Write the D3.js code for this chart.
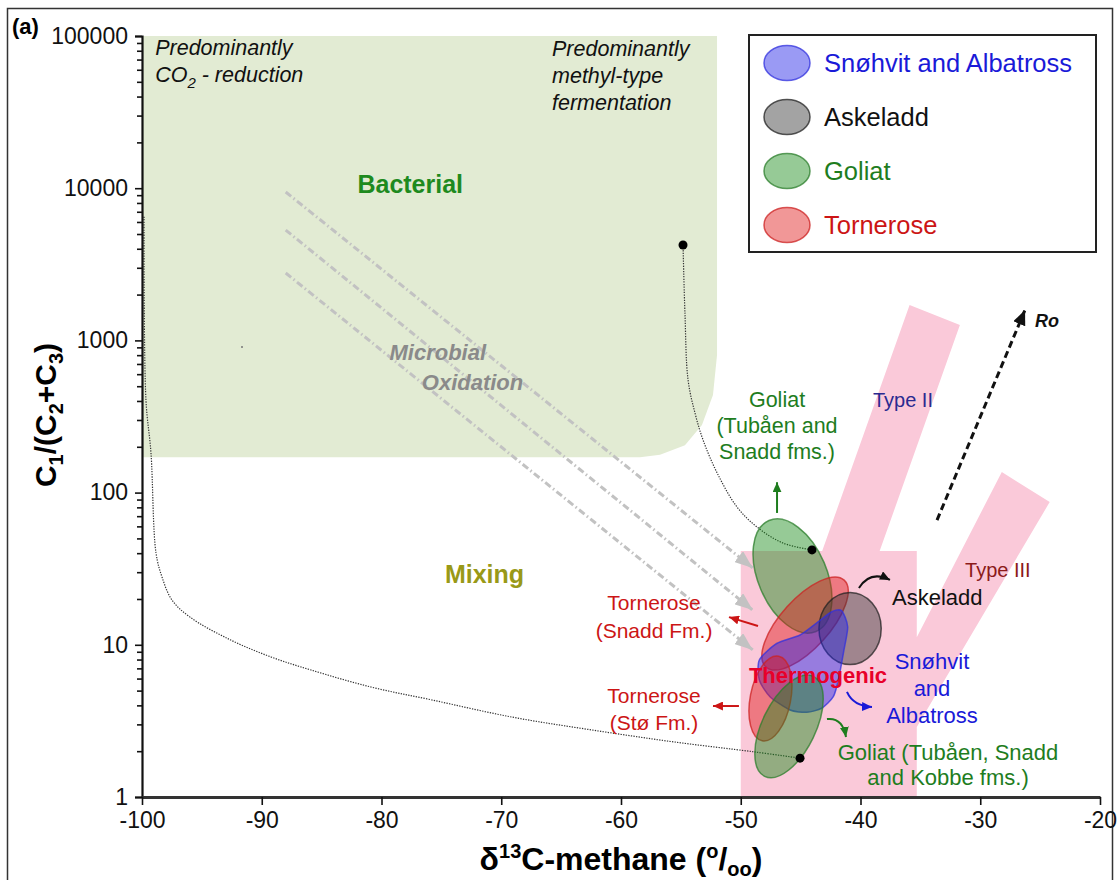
<!DOCTYPE html>
<html>
<head>
<meta charset="utf-8">
<script src="https://cdn.jsdelivr.net/npm/d3@7"></script>
<style>
body{margin:0;background:#fff;}
text{font-family:"Liberation Sans",Arial,sans-serif;}
</style>
</head>
<body>
<div id="chart"></div>
<script>
var width = 1118, height = 880;

// axis ticks
var xTicks = [-100,-90,-80,-70,-60,-50,-40,-30,-20];
var yTicks = [1,10,100,1000,10000,100000];

// bacterial field (d13C, C1/(C2+C3))
var bactX = [-100,-51.98,-51.98,-52.32,-53.24,-54.66,-56.74,-58.41,-100];
var bactY = [100000,100000,802,438,278,205,177,171,171];

// thermogenic field with Type II / Type III branches
var thermX = [-50,-50,-43.2,-35.9,-31.7,-38.4,-35.3,-35.3,-28.2,-24.2,-35.3,-35.3];
var thermY = [1,41.3,41.3,1709,1262,41.3,41.3,11.2,136.6,86.7,2.88,1];

// field ellipses: centre, half widths (permil, decades), tilt
var fieldName = ["Goliat","Tornerose","Askeladd","Tornerose","Goliat"];
var fieldCx = [-45.68,-44.63,-40.87,-47.52,-45.97];
var fieldCy = [28.3,13.8,12.8,4.44,2.91];
var fieldRx = [2.87,2.05,2.6,1.69,2.23];
var fieldRy = [0.396,0.384,0.237,0.283,0.365];
var fieldTilt = [-23,42,0,11,26];

// Snohvit and Albatross outline
var snoX = [-41.57,-41.07,-41.38,-41.85,-42.27,-43.24,-44.49,-45.89,-47.56,-48.45,-48.45,-47.0,-45.05,-43.52,-42.4];
var snoY = [16.75,13.15,9.25,5.87,4.56,3.83,3.60,3.73,4.56,5.87,7.95,10.2,11.6,14.2,16.5];

// mixing curves
var mix1X = [-99.83,-99.67,-99.25,-98.83,-98.33,-97.5,-95.99,-92.65,-89.23,-85.89,-80.88,-75.78,-69.1,-62.34,-55.57,-48.89,-45.05];
var mix1Y = [6500,406,182,40.1,27.9,19.7,15.2,10.8,8.32,6.83,5.28,4.34,3.35,2.75,2.30,1.98,1.80];
var mix2X = [-54.82,-54.66,-54.40,-53.82,-53.15,-51.98,-50.31,-48.64,-46.47,-44.05];
var mix2Y = [4234,1514,550,333,222,135,80.4,59.4,46.6,42];
var endX = [-54.82,-44.05,-45.05];
var endY = [4234,42,1.80];

// microbial oxidation trends
var oxX0 = [-88,-88,-88], oxY0 = [9440,5310,2773];
var oxX1 = [-49,-49,-49], oxY1 = [32,16.9,9.25];

var legendNames = ["Snøhvit and Albatross","Askeladd","Goliat","Tornerose"];

var col = {
  Goliat:{fill:"#178a17",stroke:"#2b7d2b",text:"#1e7d1e"},
  Tornerose:{fill:"#e01818",stroke:"#cc2222",text:"#cc1515"},
  Askeladd:{fill:"#333333",stroke:"#222222",text:"#111111"},
  Sno:{fill:"#1e1ee6",stroke:"#3030dd",text:"#1a1ad8"}
};

var svg = d3.select("#chart").append("svg")
  .attr("width",width).attr("height",height)
  .style("background","#fff");

var x = d3.scaleLinear().domain([-100,-20]).range([142,1100]);
var y = d3.scaleLog().domain([1,100000]).range([797,36]);

var defs = svg.append("defs");
function marker(id,color,len,wid){
  defs.append("marker").attr("id",id)
    .attr("markerUnits","userSpaceOnUse")
    .attr("markerWidth",len).attr("markerHeight",wid)
    .attr("refX",len).attr("refY",wid/2)
    .attr("orient","auto")
    .append("path")
    .attr("d","M0,0L"+len+","+(wid/2)+"L0,"+wid+"Z")
    .attr("fill",color);
}
marker("aGray","#c2c2c2",18,14);
marker("aBlack","#111",15,13);
marker("aGreen","#1e7d1e",10,9);
marker("aRed","#cc1515",10,9);
marker("aBlue","#1a1ad8",10,9);
marker("aBlk","#111",10,9);

// outer frame
svg.append("rect").attr("x",7.5).attr("y",8.5).attr("width",1105).attr("height",900)
  .attr("fill","none").attr("stroke","#333").attr("stroke-width",1.5);

var poly = d3.line().x(function(d){return x(d[0]);}).y(function(d){return y(d[1]);});

svg.append("path")
  .attr("d",poly(d3.zip(bactX,bactY))+"Z")
  .attr("fill","#e2ebd3");

svg.append("path")
  .attr("d",poly(d3.zip(thermX,thermY))+"Z")
  .attr("fill","#fac9d9");

// microbial oxidation lines
for(let i=0;i<oxX0.length;i++){
  svg.append("line")
    .attr("x1",x(oxX0[i])).attr("y1",y(oxY0[i]))
    .attr("x2",x(oxX1[i])).attr("y2",y(oxY1[i]))
    .attr("stroke","#c2c2c2").attr("stroke-width",3)
    .attr("stroke-dasharray","7,3,1.5,3")
    .attr("marker-end","url(#aGray)");
}

// mixing curves
var curve = d3.line().x(function(d){return x(d[0]);}).y(function(d){return y(d[1]);})
  .curve(d3.curveCatmullRom);
[[mix1X,mix1Y],[mix2X,mix2Y]].forEach(function(m){
  svg.append("path").attr("d",curve(d3.zip(m[0],m[1])))
    .attr("fill","none").attr("stroke","#333").attr("stroke-width",1.2)
    .attr("stroke-dasharray","1.3,1.3");
});
svg.append("circle").attr("cx",x(-91.65)).attr("cy",y(905)).attr("r",1).attr("fill","#777");

function fieldStyle(sel,c){
  sel.attr("fill",c.fill).attr("fill-opacity",0.45)
    .attr("stroke",c.stroke).attr("stroke-opacity",0.75).attr("stroke-width",1.5);
}
function drawField(i){
  var cx = x(fieldCx[i]), cy = y(fieldCy[i]);
  var rx = x(fieldCx[i]+fieldRx[i])-cx;
  var ry = cy - y(fieldCy[i]*Math.pow(10,fieldRy[i]));
  svg.append("ellipse").attr("cx",cx).attr("cy",cy).attr("rx",rx).attr("ry",ry)
    .attr("transform","rotate("+fieldTilt[i]+","+cx+","+cy+")")
    .call(fieldStyle,col[fieldName[i]]);
}
drawField(0);
drawField(1);
drawField(2);
svg.append("path")
  .attr("d",d3.line().x(function(d){return x(d[0]);}).y(function(d){return y(d[1]);})
    .curve(d3.curveCardinalClosed.tension(0.3))(d3.zip(snoX,snoY)))
  .call(fieldStyle,col.Sno);
drawField(3);
drawField(4);

svg.selectAll(".end").data(d3.zip(endX,endY)).enter().append("circle")
  .attr("cx",function(d){return x(d[0]);}).attr("cy",function(d){return y(d[1]);})
  .attr("r",4.5).attr("fill","#000");

// axes
var yAxis = svg.append("g").attr("transform","translate(142,0)")
  .call(d3.axisLeft(y).tickValues(yTicks).tickSize(7).tickPadding(7)
    .tickFormat(function(d){return String(d);}));
var minor = [];
yTicks.slice(0,-1).forEach(function(d){ for(let m=2;m<10;m++) minor.push(d*m); });
svg.append("g").attr("transform","translate(142,0)")
  .call(d3.axisLeft(y).tickValues(minor).tickSize(5).tickFormat(""))
  .select(".domain").remove();
var xAxis = svg.append("g").attr("transform","translate(0,797)")
  .call(d3.axisBottom(x).tickValues(xTicks).tickSize(8).tickPadding(7).tickSizeOuter(0)
    .tickFormat(function(d){return String(d);}));
svg.selectAll(".tick line").attr("stroke","#111").attr("stroke-width",1.6);
svg.selectAll(".domain").attr("stroke","#111").attr("stroke-width",2.2);
xAxis.select(".domain").attr("stroke","#333").attr("stroke-width",2.8);
svg.selectAll(".tick text").attr("font-size",23).attr("fill","#111")
  .style("font-family","'Liberation Sans',Arial,sans-serif");

// axis titles
var yl = svg.append("text").attr("transform","translate(56,415) rotate(-90)")
  .attr("text-anchor","middle").attr("font-size",30).attr("font-weight","bold");
yl.append("tspan").text("C");
yl.append("tspan").text("1").attr("font-size",20).attr("dy",7);
yl.append("tspan").text("/(C").attr("dy",-7);
yl.append("tspan").text("2").attr("font-size",20).attr("dy",7);
yl.append("tspan").text("+C").attr("dy",-7);
yl.append("tspan").text("3").attr("font-size",20).attr("dy",7);
yl.append("tspan").text(")").attr("dy",-7);

var xl = svg.append("text").attr("x",x(-60)).attr("y",870)
  .attr("text-anchor","middle").attr("font-size",32).attr("font-weight","bold");
xl.append("tspan").text("δ");
xl.append("tspan").text("13").attr("font-size",20).attr("dy",-12);
xl.append("tspan").text("C-methane (").attr("dy",12);
xl.append("tspan").text("o").attr("font-size",20).attr("dy",-12);
xl.append("tspan").text("/").attr("dy",12);
xl.append("tspan").text("oo").attr("font-size",20).attr("dy",6);
xl.append("tspan").text(")").attr("dy",-6);

svg.append("text").attr("x",12).attr("y",34).attr("font-size",22)
  .attr("font-weight","bold").text("(a)");

// annotations
function label(lines,lx,ly,o){
  var t = svg.append("text").attr("x",x(lx)).attr("y",y(ly))
    .attr("text-anchor",o.anchor||"start").attr("font-size",o.size||21)
    .attr("fill",o.color||"#111")
    .attr("font-weight",o.weight||"normal").attr("font-style",o.style||"normal");
  lines.forEach(function(s,i){
    var ts = t.append("tspan").attr("x",x(lx)).attr("dy",i==0?0:(o.lh||26));
    if(typeof s=="string") ts.text(s);
    else s(ts);
  });
  return t;
}
label(["Predominantly",function(ts){
  ts.text("CO");
  ts.append("tspan").text("2").attr("font-size",15).attr("dy",6);
  ts.append("tspan").text(" - reduction").attr("dy",-6);
}],-98.9,75000,{style:"italic",size:21.5,lh:27});
label(["Predominantly","methyl-type","fermentation"],-65.76,73900,{style:"italic",size:21.5,lh:27});
label(["Bacterial"],-77.6,9290,{anchor:"middle",size:25,weight:"bold",color:"#1e8a1e"});
label(["Mixing"],-71.4,25.5,{anchor:"middle",size:25,weight:"bold",color:"#999917"});
label(["Microbial"],-75.3,743,{anchor:"middle",size:22,weight:"bold",style:"italic",color:"#8a8a8a"});
label(["Oxidation"],-72.4,472,{anchor:"middle",size:22,weight:"bold",style:"italic",color:"#8a8a8a"});
label(["Goliat","(Tubåen and","Snadd fms.)"],-46.97,365,{anchor:"middle",size:21.5,color:col.Goliat.text,lh:26});
label(["Tornerose","(Snadd Fm.)"],-57.24,16.9,{anchor:"middle",size:21,color:col.Tornerose.text,lh:28});
label(["Tornerose","(Stø Fm.)"],-57.24,4.15,{anchor:"middle",size:21,color:col.Tornerose.text,lh:27});
label(["Askeladd"],-37.37,18.3,{size:22,color:"#111"});
label(["Snøhvit","and","Albatross"],-34.03,6.93,{anchor:"middle",size:22,color:col.Sno.text,lh:27});
label(["Goliat (Tubåen, Snadd","and Kobbe fms.)"],-32.69,1.75,{anchor:"middle",size:22,color:col.Goliat.text,lh:25});
label(["Type II"],-38.96,365,{size:20,color:"#2a2a90"});
label(["Type III"],-31.27,27.9,{size:20,color:"#8b1a1a"});
label(["Ro"],-25.43,1225,{size:18,weight:"bold",style:"italic",color:"#111"});
label(["Thermogenic"],-43.55,5.61,{anchor:"middle",size:22,weight:"bold",color:"#e8002a"});

// annotation arrows
function arrow(x0,y0,x1,y1,color,m,w){
  svg.append("line").attr("x1",x(x0)).attr("y1",y(y0)).attr("x2",x(x1)).attr("y2",y(y1))
    .attr("stroke",color).attr("stroke-width",w||2).attr("marker-end","url(#"+m+")");
}
function bend(x0,y0,cx,cy,x1,y1,color,m){
  svg.append("path")
    .attr("d","M"+x(x0)+","+y(y0)+"Q"+x(cx)+","+y(cy)+" "+x(x1)+","+y(y1))
    .attr("fill","none").attr("stroke",color).attr("stroke-width",2).attr("marker-end","url(#"+m+")");
}
arrow(-46.97,73.5,-46.97,117,col.Goliat.text,"aGreen");
arrow(-48.56,13.3,-50.98,15.2,col.Tornerose.text,"aRed");
arrow(-50.15,3.96,-52.32,3.96,col.Tornerose.text,"aRed");
bend(-40.13,23.6,-39.2,31,-37.54,26.7,"#111","aBlk");
bend(-41.13,4.90,-40.6,3.95,-39.04,3.90,col.Sno.text,"aBlue");
bend(-42.8,3.25,-41.5,3.35,-41.21,2.48,col.Goliat.text,"aGreen");

svg.append("line").attr("x1",x(-33.61)).attr("y1",y(66)).attr("x2",x(-26.26)).attr("y2",y(1585))
  .attr("stroke","#111").attr("stroke-width",3).attr("stroke-dasharray","7,4")
  .attr("marker-end","url(#aBlack)");

// legend
var lg = svg.append("g").attr("transform","translate(749,35)");
lg.append("rect").attr("width",347).attr("height",217)
  .attr("fill","#fff").attr("stroke","#222").attr("stroke-width",2);
var lgCol = [col.Sno,col.Askeladd,col.Goliat,col.Tornerose];
var lgRow = lg.selectAll(".row").data(legendNames).enter().append("g")
  .attr("transform",function(d,i){return "translate(38,"+(28+i*54)+")";});
lgRow.append("ellipse").attr("rx",23).attr("ry",17.5)
  .each(function(d,i){ d3.select(this).call(fieldStyle,lgCol[i]); });
lgRow.append("text").attr("x",37).attr("y",9).attr("font-size",25.5)
  .attr("fill",function(d,i){return lgCol[i].text;}).text(function(d){return d;});
</script>
</body>
</html>
